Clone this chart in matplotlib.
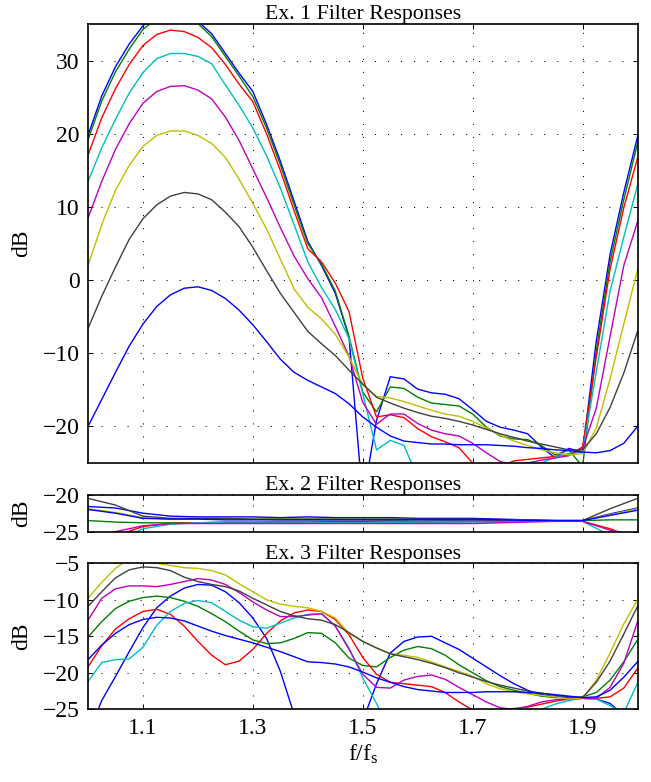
import matplotlib
matplotlib.use("Agg")
import matplotlib.pyplot as plt

plt.rcParams["font.family"] = ["Liberation Serif", "DejaVu Serif"]
plt.rcParams["mathtext.fontset"] = "custom"
plt.rcParams["mathtext.rm"] = "Liberation Serif"
plt.rcParams["mathtext.it"] = "Liberation Serif:italic"
plt.rcParams["font.size"] = 17
plt.rcParams["lines.solid_joinstyle"] = "round"

# frequency grids (f/fs)
freq = [1.000, 1.025, 1.050, 1.075, 1.100, 1.125, 1.150, 1.175, 1.200, 1.225,
        1.250, 1.275, 1.300, 1.325, 1.350, 1.375, 1.400, 1.425, 1.450, 1.475,
        1.500, 1.525, 1.550, 1.575, 1.600, 1.625, 1.650, 1.675, 1.700, 1.725,
        1.750, 1.775, 1.800, 1.825, 1.850, 1.875, 1.900, 1.925, 1.950, 1.975,
        2.000]
freq_ex2 = [1.00, 1.05, 1.10, 1.15, 1.20, 1.25, 1.30, 1.35, 1.40, 1.45, 1.50,
            1.55, 1.60, 1.65, 1.70, 1.75, 1.80, 1.85, 1.90, 1.95, 2.00]

# Ex. 1 responses (dB)
ex1_b1 = [19.8, 25.2, 29.2, 32.3, 34.8, 36.2, 36.8, 36.5, 35.4, 33.7, 31.0, 28.3, 25.8, 21.3, 16.3, 10.8, 5.3, 2.0, -1.8, -7.8,
          -30.0, -19.2, -13.2, -13.5, -14.9, -15.4, -15.6, -16.2, -17.7, -19.3, -20.1, -20.5, -21.0, -22.8, -24.3, -23.0, -23.5, -8.3, 3.5, 12.0, 19.6]
ex1_g = [19.2, 24.5, 28.5, 31.6, 34.3, 35.8, 36.4, 36.1, 35.1, 33.3, 30.6, 27.9, 25.1, 20.8, 15.8, 10.3, 5.0, 2.2, -1.5, -7.7,
         -15.3, -18.0, -14.6, -14.8, -16.0, -16.8, -17.0, -17.2, -18.3, -20.1, -21.3, -21.7, -21.8, -22.6, -23.9, -23.2, -25.5, -9.6, 2.5, 11.0, 18.7]
ex1_r = [17.1, 22.2, 26.2, 29.5, 32.1, 33.6, 34.2, 34.0, 33.2, 31.8, 29.5, 26.8, 24.4, 20.0, 15.0, 9.5, 4.3, 2.5, -0.4, -4.3,
         -13.4, -18.7, -18.4, -18.8, -20.3, -21.4, -22.1, -22.9, -25.0, -26.0, -25.5, -24.7, -24.5, -24.3, -24.1, -23.9, -22.8, -10.5, 1.5, 9.9, 16.7]
ex1_c = [13.5, 18.1, 22.0, 25.6, 28.4, 30.3, 31.0, 31.0, 30.6, 29.6, 26.7, 23.9, 20.8, 17.0, 12.6, 7.6, 2.5, -1.0, -4.0, -8.0,
         -15.5, -23.2, -21.9, -22.6, -27.0, -30.0, -30.0, -30.0, -30.0, -30.0, -30.0, -30.0, -28.0, -25.0, -24.2, -23.7, -23.5, -12.5, -1.5, 5.9, 13.0]
ex1_m = [8.5, 13.5, 17.9, 21.4, 24.2, 25.8, 26.5, 26.6, 26.0, 24.8, 22.3, 19.1, 15.2, 11.3, 7.2, 3.3, 0.2, -2.4, -6.3, -10.4,
         -16.7, -19.7, -18.3, -18.3, -19.6, -20.5, -21.0, -21.3, -22.3, -23.6, -24.8, -25.2, -25.0, -24.6, -24.3, -24.0, -23.0, -17.5, -7.7, 2.0, 8.0]
ex1_y = [2.0, 7.6, 12.3, 15.7, 18.3, 19.8, 20.4, 20.4, 19.8, 18.7, 16.8, 13.8, 10.5, 7.0, 2.9, -1.2, -3.7, -5.3, -7.4, -10.5,
         -14.3, -15.9, -16.1, -16.6, -17.2, -17.8, -18.3, -18.6, -19.3, -20.2, -21.2, -22.0, -22.6, -23.2, -23.6, -23.9, -23.7, -20.2, -13.5, -6.0, 1.4]
ex1_k = [-6.6, -2.2, 1.8, 5.6, 8.4, 10.3, 11.5, 12.0, 11.8, 11.0, 9.3, 7.3, 4.5, 1.3, -1.8, -4.4, -7.0, -8.7, -10.3, -12.3,
         -14.2, -16.0, -16.8, -17.5, -18.1, -18.6, -18.9, -19.3, -19.8, -20.4, -21.0, -21.5, -22.0, -22.4, -22.8, -23.2, -23.2, -21.0, -17.4, -12.7, -7.0]
ex1_b2 = [-20.0, -16.3, -12.6, -9.0, -6.0, -3.6, -2.0, -1.1, -0.9, -1.4, -2.5, -4.1, -6.1, -8.4, -10.8, -12.6, -13.7, -14.6, -15.5, -16.9,
          -18.7, -20.1, -21.3, -22.0, -22.2, -22.4, -22.4, -22.5, -22.5, -22.5, -22.6, -22.7, -22.9, -23.0, -23.2, -23.3, -23.5, -23.6, -23.3, -22.3, -20.0]

# Ex. 2 responses (dB)
ex2_b1 = [-21.6, -21.8, -22.5, -22.9, -23.0, -23.0, -23.0, -23.1, -23.0, -23.1, -23.1,
          -23.1, -23.2, -23.2, -23.2, -23.3, -23.4, -23.5, -23.5, -22.6, -21.8]
ex2_g = [-23.5, -23.7, -23.8, -23.8, -23.8, -23.7, -23.7, -23.6, -23.6, -23.6, -23.6,
         -23.5, -23.6, -23.5, -23.6, -23.5, -23.5, -23.5, -23.5, -23.4, -23.4]
ex2_r = [-26.5, -25.6, -24.3, -23.9, -23.8, -23.8, -23.8, -23.8, -23.7, -23.7, -23.7,
         -23.7, -23.7, -23.7, -23.6, -23.6, -23.6, -23.6, -23.6, -24.6, -26.0]
ex2_c = [-27.0, -26.3, -24.6, -24.0, -23.8, -23.7, -23.7, -23.7, -23.7, -23.8, -23.8,
         -23.8, -23.7, -23.7, -23.7, -23.7, -23.6, -23.6, -23.6, -25.5, -27.0]
ex2_m = [-26.0, -25.0, -24.2, -23.9, -23.9, -23.9, -23.9, -23.9, -23.9, -23.9, -23.9,
         -23.9, -23.9, -23.9, -23.9, -23.8, -23.7, -23.6, -23.6, -24.8, -25.6]
ex2_y = [-21.9, -22.4, -23.1, -23.3, -23.3, -23.3, -23.3, -23.3, -23.3, -23.3, -23.4,
         -23.4, -23.4, -23.4, -23.4, -23.4, -23.5, -23.5, -23.5, -22.7, -21.9]
ex2_k = [-20.5, -21.4, -22.9, -23.2, -23.2, -23.2, -23.3, -23.3, -23.3, -23.3, -23.3,
         -23.3, -23.3, -23.3, -23.3, -23.4, -23.4, -23.5, -23.5, -21.9, -20.5]
ex2_b2 = [-22.0, -22.5, -23.2, -23.3, -23.3, -23.4, -23.4, -23.4, -23.4, -23.4, -23.4,
          -23.4, -23.4, -23.4, -23.4, -23.4, -23.5, -23.5, -23.5, -22.8, -22.1]

# Ex. 3 responses (dB)
ex3_b1 = [-28.5, -23.8, -20.5, -17.1, -13.8, -11.1, -9.5, -8.4, -7.9, -8.0, -8.9, -10.4, -12.5, -15.3, -19.8, -25.7, -31.0, -34.0, -34.0, -31.0,
          -26.6, -21.5, -17.3, -15.7, -15.1, -15.0, -15.9, -16.8, -18.0, -19.2, -20.4, -21.5, -22.4, -23.0, -23.3, -23.4, -23.5, -23.6, -24.2, -25.8, -28.0]
ex3_g = [-15.1, -13.0, -11.2, -10.2, -9.7, -9.5, -9.7, -10.2, -10.9, -11.9, -13.0, -14.3, -15.5, -16.0, -15.9, -15.3, -14.5, -14.6, -15.9, -18.0,
         -19.0, -19.2, -17.9, -16.9, -16.4, -16.7, -17.6, -18.9, -20.0, -21.1, -21.9, -22.4, -22.8, -23.2, -23.4, -23.4, -23.3, -22.7, -21.0, -18.5, -15.5]
ex3_r = [-19.2, -16.3, -14.0, -12.6, -11.6, -11.3, -12.0, -13.6, -15.7, -17.6, -18.9, -18.4, -16.8, -14.6, -12.9, -11.8, -11.4, -11.6, -12.7, -14.8,
         -17.9, -20.2, -21.3, -21.5, -21.7, -21.9, -22.7, -24.0, -25.1, -26.0, -25.6, -24.9, -24.7, -24.3, -23.9, -23.6, -23.5, -23.5, -23.3, -22.1, -19.4]
ex3_c = [-21.2, -18.6, -18.2, -18.1, -16.5, -13.5, -11.6, -10.5, -10.1, -10.4, -11.6, -12.8, -13.7, -13.9, -13.2, -12.5, -12.0, -11.9, -13.6, -16.6,
         -20.7, -24.2, -28.0, -31.0, -33.0, -34.0, -34.0, -34.0, -34.0, -33.0, -31.0, -29.0, -27.0, -25.0, -24.3, -23.8, -23.5, -23.6, -24.5, -25.5, -21.4]
ex3_m = [-12.8, -9.8, -8.5, -8.1, -8.1, -8.2, -7.9, -7.5, -7.1, -7.3, -7.9, -9.0, -10.3, -11.4, -12.3, -12.3, -12.1, -11.9, -13.6, -16.8,
         -20.2, -22.0, -22.1, -21.0, -20.5, -20.3, -20.9, -22.0, -23.0, -24.0, -24.8, -25.0, -24.6, -24.0, -23.7, -23.6, -23.5, -23.5, -22.0, -18.7, -13.0]
ex3_y = [-9.8, -7.6, -5.7, -4.3, -3.9, -5.0, -5.3, -5.6, -5.7, -6.0, -6.6, -7.8, -8.9, -10.0, -10.6, -10.9, -11.1, -11.6, -12.5, -14.6,
         -15.7, -16.6, -17.4, -17.6, -17.9, -18.5, -19.2, -19.8, -20.5, -21.5, -22.2, -22.6, -22.9, -23.1, -23.3, -23.6, -23.5, -21.0, -17.3, -13.3, -10.0]
ex3_k = [-10.9, -8.9, -7.0, -5.9, -5.5, -5.6, -6.0, -6.9, -7.5, -7.9, -8.2, -8.8, -9.8, -10.7, -11.6, -12.2, -12.6, -12.8, -13.4, -14.5,
         -15.7, -16.6, -17.4, -17.8, -18.2, -18.7, -19.3, -20.0, -20.6, -21.2, -21.7, -22.1, -22.5, -22.8, -23.1, -23.3, -23.4, -21.3, -18.4, -14.7, -10.9]
ex3_b2 = [-18.2, -16.2, -14.6, -13.4, -12.7, -12.4, -12.5, -12.9, -13.6, -14.3, -14.9, -15.4, -15.9, -16.5, -17.1, -17.8, -18.5, -18.6, -18.8, -19.2,
          -19.9, -20.7, -21.3, -21.9, -22.3, -22.5, -22.7, -22.7, -22.7, -22.6, -22.6, -22.6, -22.7, -22.8, -23.0, -23.2, -23.4, -23.3, -22.4, -20.6, -18.5]

# matlab's old default line colours
colors = [(0, 0, 1), (0, 0.5, 0), (1, 0, 0), (0, 0.75, 0.75),
          (0.75, 0, 0.75), (0.75, 0.75, 0), (0.25, 0.25, 0.25), (0, 0, 1)]

xticks = [1.1, 1.3, 1.5, 1.7, 1.9]


def style_axes(ax, title, ylim, yticks, show_x=False):
    ax.set_xlim(1.0, 2.0)
    ax.set_ylim(*ylim)
    ax.set_xticks(xticks)
    ax.set_yticks(yticks)
    if show_x:
        ax.set_xticklabels([f"{t:.1f}" for t in xticks])
    else:
        ax.set_xticklabels([])
    ax.tick_params(direction="in", top=True, right=True, length=3.6,
                   width=0.7, pad=6)
    ax.grid(True, linestyle=(0, (1, 11.5)), color="k", linewidth=0.75)
    ax.set_axisbelow(True)
    for sp in ax.spines.values():
        sp.set_linewidth(1.2)
    ax.set_title(title, pad=3, fontsize=15.7)
    ax.set_ylabel("dB")
    ax.yaxis.set_label_coords(-0.102, 0.5)


fig = plt.figure(figsize=(6.51, 7.82), dpi=100)

ax1 = fig.add_axes([0.1352, 0.4079, 0.8441, 0.5611])
ax2 = fig.add_axes([0.1352, 0.3201, 0.8441, 0.0473])
ax3 = fig.add_axes([0.1352, 0.0930, 0.8441, 0.1867])

ex1 = [ex1_b1, ex1_g, ex1_r, ex1_c, ex1_m, ex1_y, ex1_k, ex1_b2]
ex2 = [ex2_b1, ex2_g, ex2_r, ex2_c, ex2_m, ex2_y, ex2_k, ex2_b2]
ex3 = [ex3_b1, ex3_g, ex3_r, ex3_c, ex3_m, ex3_y, ex3_k, ex3_b2]

for vals, col in zip(ex1, colors):
    ax1.plot(freq, vals, color=col, linewidth=1.0)
for vals, col in zip(ex2, colors):
    ax2.plot(freq_ex2, vals, color=col, linewidth=1.0)
for vals, col in zip(ex3, colors):
    ax3.plot(freq, vals, color=col, linewidth=1.0)

style_axes(ax1, "Ex. 1 Filter Responses", (-25, 35), [-20, -10, 0, 10, 20, 30])
style_axes(ax2, "Ex. 2 Filter Responses", (-25, -20), [-25, -20])
style_axes(ax3, "Ex. 3 Filter Responses", (-25, -5), [-25, -20, -15, -10, -5],
           show_x=True)
ax3.set_xlabel(r"f/f$_\mathrm{s}$", labelpad=3)

fig.savefig("out.png", dpi=100)
